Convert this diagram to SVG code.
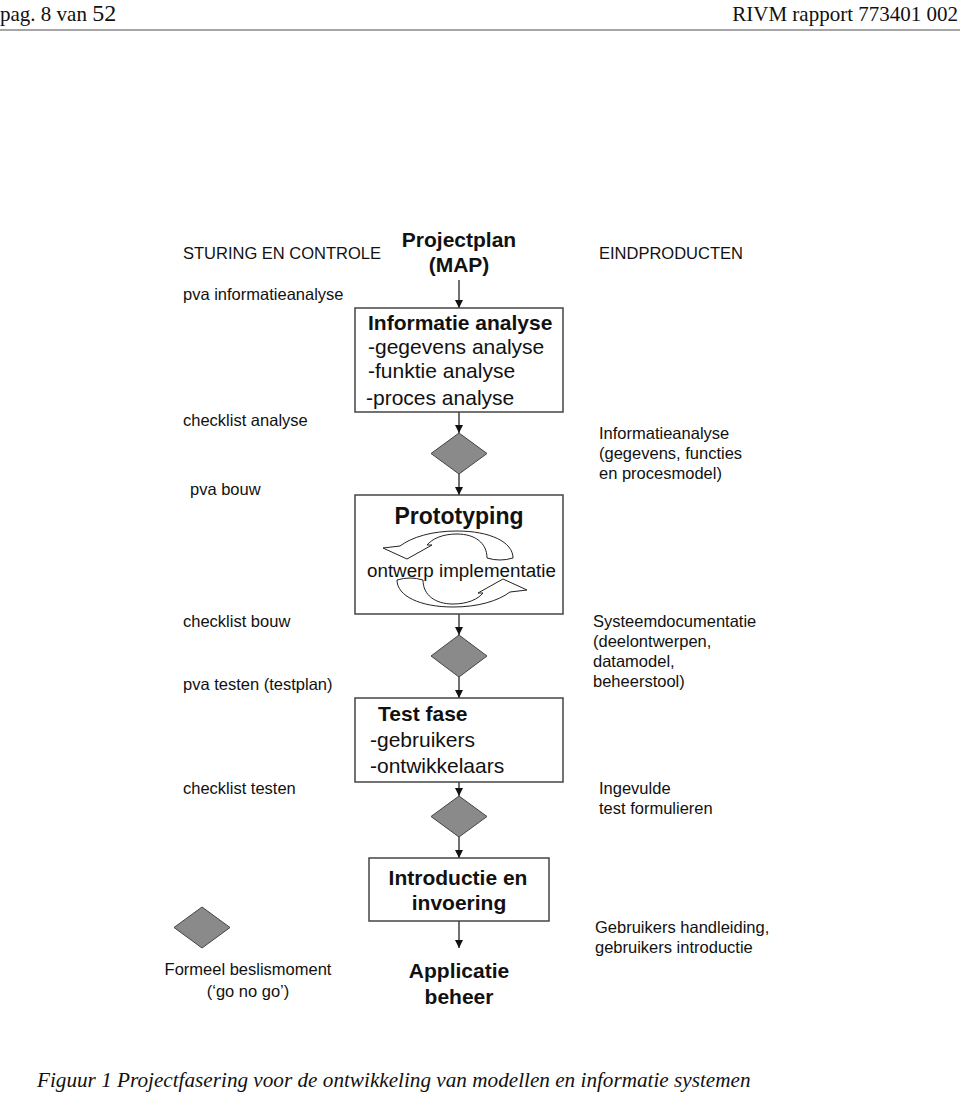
<svg xmlns="http://www.w3.org/2000/svg" width="960" height="1094" viewBox="0 0 960 1094">
<style>
.s{font-family:"Liberation Sans",Arial,sans-serif;font-size:16.5px;fill:#111}
.b{font-family:"Liberation Sans",Arial,sans-serif;font-size:21px;fill:#111}
.bb{font-family:"Liberation Sans",Arial,sans-serif;font-size:21px;font-weight:bold;fill:#111}
.t{font-family:"Liberation Serif","Times New Roman",serif;fill:#111}
.box{fill:#fff;stroke:#444;stroke-width:1.5}
.dia{fill:#8a8a8a;stroke:#444;stroke-width:1}
.con{stroke:#111;stroke-width:1.2;fill:none;marker-end:url(#ah)}
.carr{fill:#fff;stroke:#222;stroke-width:1}
</style>
<defs>
<marker id="ah" viewBox="0 0 10 10" refX="10" refY="5" markerWidth="8" markerHeight="9" markerUnits="userSpaceOnUse" orient="auto">
<path d="M0,0 L10,5 L0,10 z" fill="#111"/>
</marker>
<path id="crescent" d="M487,558 C487,543 475,534 457,534 C442,534 432,539 427,545 L432,545 L407,559 L383,548 L400,546 C412,537 432,531 457,531 C490,531 513,542 513,558 Q500,562 487,558 Z"/>
</defs>
<rect width="960" height="1094" fill="#fff"/>

<g id="header">
<text class="t" x="0" y="21" font-size="21">pag. 8 van <tspan font-size="24">52</tspan></text>
<text class="t" x="958" y="21" font-size="21" text-anchor="end">RIVM rapport 773401 002</text>
<line x1="0" y1="30" x2="960" y2="30" stroke="#888" stroke-width="1.5"/>
</g>

<g id="col-left">
<text class="s" x="183" y="259">STURING EN CONTROLE</text>
<text class="s" x="183" y="300">pva informatieanalyse</text>
<text class="s" x="183" y="426">checklist analyse</text>
<text class="s" x="190" y="495">pva bouw</text>
<text class="s" x="183" y="627">checklist bouw</text>
<text class="s" x="183" y="690">pva testen (testplan)</text>
<text class="s" x="183" y="794">checklist testen</text>
</g>

<g id="col-right">
<text class="s" x="599" y="259">EINDPRODUCTEN</text>
<text class="s" x="599" y="439">Informatieanalyse</text>
<text class="s" x="599" y="459">(gegevens, functies</text>
<text class="s" x="599" y="479">en procesmodel)</text>
<text class="s" x="593" y="627">Systeemdocumentatie</text>
<text class="s" x="593" y="647">(deelontwerpen,</text>
<text class="s" x="593" y="667">datamodel,</text>
<text class="s" x="593" y="687">beheerstool)</text>
<text class="s" x="599" y="794">Ingevulde</text>
<text class="s" x="599" y="814">test formulieren</text>
<text class="s" x="595" y="933">Gebruikers handleiding,</text>
<text class="s" x="595" y="953">gebruikers introductie</text>
</g>

<g id="connectors">
<line class="con" x1="459" y1="280" x2="459" y2="308"/>
<line class="con" x1="459" y1="412" x2="459" y2="433"/>
<line class="con" x1="459" y1="474" x2="459" y2="495"/>
<line class="con" x1="459" y1="614" x2="459" y2="635"/>
<line class="con" x1="459" y1="677" x2="459" y2="698"/>
<line class="con" x1="459" y1="782" x2="459" y2="796"/>
<line class="con" x1="459" y1="837" x2="459" y2="858"/>
<line class="con" x1="459" y1="921" x2="459" y2="948"/>
</g>

<g id="projectplan">
<text class="bb" x="459" y="247" text-anchor="middle">Projectplan</text>
<text class="bb" x="459" y="272" text-anchor="middle">(MAP)</text>
</g>

<g id="informatie-analyse">
<rect class="box" x="355" y="308" width="208" height="104"/>
<text class="bb" x="368" y="330">Informatie analyse</text>
<text class="b" x="368" y="354">-gegevens analyse</text>
<text class="b" x="368" y="378">-funktie analyse</text>
<text class="b" x="366" y="405">-proces analyse</text>
</g>

<g id="diamond1"><polygon class="dia" points="459,433 487,453.5 459,474 431,453.5"/></g>

<g id="prototyping">
<rect class="box" x="355" y="495" width="208" height="119"/>
<use href="#crescent" class="carr"/>
<use href="#crescent" class="carr" transform="rotate(180 455 569)"/>
<text class="bb" x="459" y="524" text-anchor="middle" style="font-size:23px">Prototyping</text>
<text class="b" x="367" y="577" style="font-size:18.8px">ontwerp implementatie</text>
</g>

<g id="diamond2"><polygon class="dia" points="459,635 487,656 459,677 431,656"/></g>

<g id="test-fase">
<rect class="box" x="355" y="698" width="208" height="84"/>
<text class="bb" x="378" y="721">Test fase</text>
<text class="b" x="370" y="747">-gebruikers</text>
<text class="b" x="370" y="773">-ontwikkelaars</text>
</g>

<g id="diamond3"><polygon class="dia" points="459,796 487,816.5 459,837 431,816.5"/></g>

<g id="introductie">
<rect class="box" x="369" y="858" width="180" height="63"/>
<text class="bb" x="458" y="885" text-anchor="middle">Introductie en</text>
<text class="bb" x="459" y="910" text-anchor="middle">invoering</text>
</g>

<g id="applicatie-beheer">
<text class="bb" x="459" y="978" text-anchor="middle">Applicatie</text>
<text class="bb" x="459" y="1004" text-anchor="middle">beheer</text>
</g>

<g id="legend">
<polygon class="dia" points="202,907 230,927.5 202,948 174,927.5"/>
<text class="s" x="248" y="975" text-anchor="middle">Formeel beslismoment</text>
<text class="s" x="248" y="997" text-anchor="middle">(‘go no go’)</text>
</g>

<g id="caption">
<text class="t" x="37" y="1087" font-size="21.2" font-style="italic">Figuur 1 Projectfasering voor de ontwikkeling van modellen en informatie systemen</text>
</g>
</svg>
